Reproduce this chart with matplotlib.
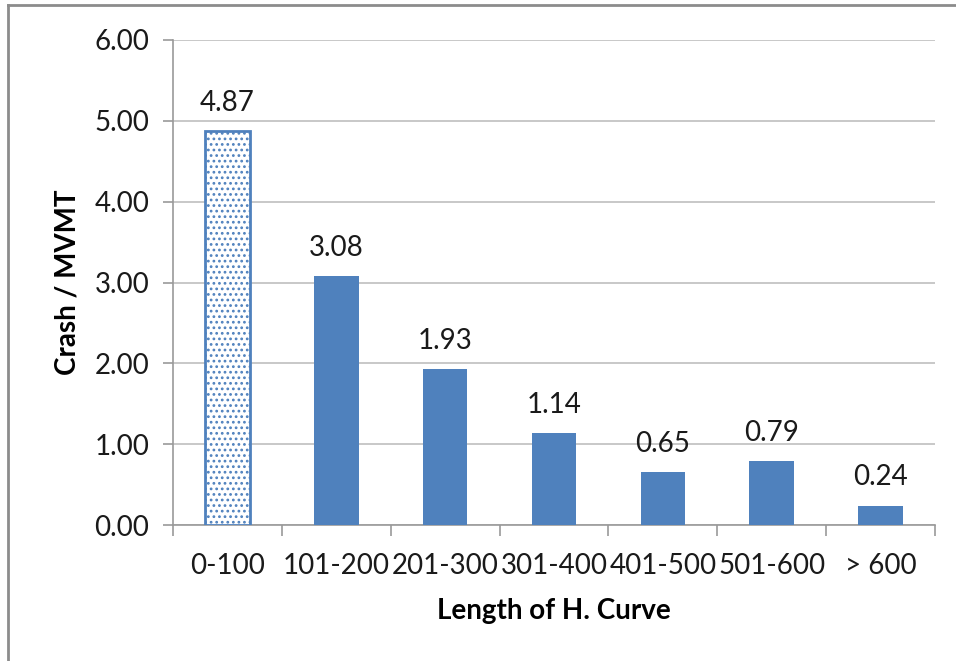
import matplotlib
matplotlib.use("Agg")
import matplotlib.pyplot as plt
import numpy as np
from matplotlib.lines import Line2D

categories = ["0-100", "101-200", "201-300", "301-400", "401-500", "501-600", "> 600"]
values = [4.87, 3.08, 1.93, 1.14, 0.65, 0.79, 0.24]
yticks = [0, 1, 2, 3, 4, 5, 6]

plt.rcParams['font.family'] = ['Lato', 'DejaVu Sans']
plt.rcParams['hatch.color'] = '#4F81BD'
plt.rcParams['hatch.linewidth'] = 1.2

W, H = 956, 661
fig = plt.figure(figsize=(W/100, H/100), dpi=100)
ax = fig.add_axes([173/W, 1-525/H, (935-173)/W, (525-40)/H])

blue = '#4F81BD'
fs = 20
x = np.arange(len(categories))
bars = ax.bar(x, values, width=0.41, color=blue, zorder=3)
bars[0].set_facecolor('white')
bars[0].set_edgecolor(blue)
bars[0].set_hatch('...')
bars[0].set_linewidth(2)

for xi, v in zip(x, values):
    ax.annotate(f"{v:.2f}", (xi, v), xytext=(0, 11), textcoords='offset points',
                ha='center', va='bottom', fontsize=fs, color='#1a1a1a')

ax.set_xlim(-0.5, len(categories) - 0.5)
ax.set_ylim(0, 6)
ax.set_yticks(yticks)
ax.set_yticklabels([f"{t:.2f}" for t in yticks], fontsize=fs, color='#1a1a1a')
ax.set_xticks(x)
ax.set_xticklabels(categories, fontsize=fs, color='#1a1a1a')
ax.set_xticks(np.arange(-0.5, len(categories)), minor=True)
ax.tick_params(axis='x', which='major', length=0, pad=20)
ax.tick_params(axis='x', which='minor', length=8, color='#999999', width=1.2)
ax.tick_params(axis='y', length=7, color='#999999', width=1.2, pad=10)

ax.grid(axis='y', color='#BFBFBF', linewidth=1.2, zorder=0)
for s in ['top', 'right']:
    ax.spines[s].set_visible(False)
ax.spines['left'].set_color('#999999')
ax.spines['bottom'].set_color('#999999')
ax.spines['left'].set_linewidth(1.2)
ax.spines['bottom'].set_linewidth(1.2)

ax.set_ylabel("Crash / MVMT", fontsize=fs, fontweight='bold', labelpad=10)
ax.set_xlabel("Length of H. Curve", fontsize=fs, fontweight='bold', labelpad=14)

# outer frame (top and left edges)
fig.add_artist(Line2D([8/W, 1], [1-5/H, 1-5/H], transform=fig.transFigure, color='#8c8c8c', lw=2))
fig.add_artist(Line2D([8/W, 8/W], [0, 1-5/H], transform=fig.transFigure, color='#8c8c8c', lw=2))

fig.savefig("out.png", dpi=100)
